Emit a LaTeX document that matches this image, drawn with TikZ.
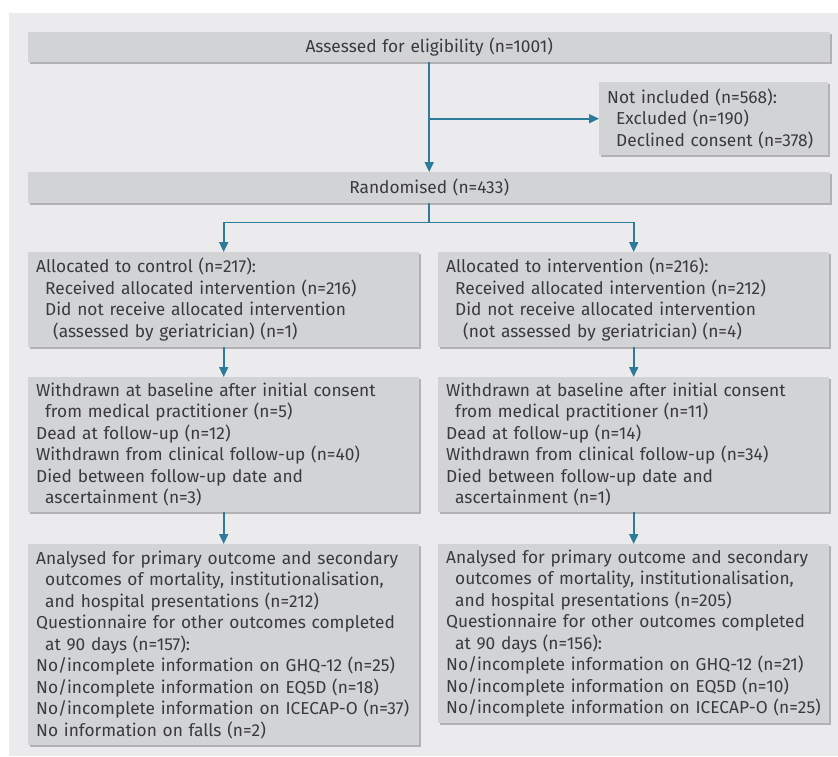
\documentclass[tikz,border=0pt]{standalone}
\usepackage{fontspec}
\setmainfont{Fira Sans}
\usepackage{xcolor}
\usetikzlibrary{arrows.meta,shadows,positioning}

\definecolor{panelgray}{HTML}{EBEBED}
\definecolor{boxgray}{HTML}{D2D3D5}
\definecolor{shadegray}{HTML}{B2B2B4}
\definecolor{flowblue}{HTML}{2C7B98}
\definecolor{textgray}{HTML}{3A3A3C}

\newcommand{\indA}{\hspace*{9pt}}
\newcommand{\indB}{\hspace*{17pt}}

\tikzset{
    flowbox/.style={
        fill=boxgray,
        text=textgray,
        anchor=north west,
        inner xsep=8pt,
        inner ysep=0pt,
        align=left,
        font=\fontsize{17.3}{21.5}\selectfont,
        drop shadow={shadow xshift=2pt, shadow yshift=-2pt, fill=shadegray, opacity=1}
    },
    flowarrow/.style={
        draw=flowblue,
        line width=1.8pt,
        -{Triangle[width=9pt,length=10pt]}
    }
}

\begin{document}
\begin{tikzpicture}[x=1pt,y=1pt]
                \useasboundingbox (0,0) rectangle (838,-756);
                \fill[panelgray] (9,-13) rectangle (838,-756);

                % top row
                \node[flowbox, align=center, text width=786pt, minimum height=30pt]
                    (assess) at (28,-32) {Assessed for eligibility (n=1001)};
                \node[flowbox, text width=213pt, minimum height=73pt]
                    (notinc) at (599,-82) {Not included (n=568):\\
                    \indA Excluded (n=190)\\
                    \indA Declined consent (n=378)};
                \node[flowbox, align=center, text width=786pt, minimum height=31pt]
                    (rand) at (28,-172) {Randomised (n=433)};

                % allocation
                \node[flowbox, text width=375pt, minimum height=95pt]
                    (allocC) at (28,-252) {Allocated to control (n=217):\\
                    \indA Received allocated intervention (n=216)\\
                    \indA Did not receive allocated intervention\\
                    \indB (assessed by geriatrician) (n=1)};
                \node[flowbox, text width=375pt, minimum height=95pt]
                    (allocI) at (438,-252) {Allocated to intervention (n=216):\\
                    \indA Received allocated intervention (n=212)\\
                    \indA Did not receive allocated intervention\\
                    \indB (not assessed by geriatrician) (n=4)};

                % follow-up
                \node[flowbox, text width=375pt, minimum height=135pt]
                    (withC) at (28,-377) {Withdrawn at baseline after initial consent\\
                    \indA from medical practitioner (n=5)\\
                    Dead at follow-up (n=12)\\
                    Withdrawn from clinical follow-up (n=40)\\
                    Died between follow-up date and\\
                    \indA ascertainment (n=3)};
                \node[flowbox, text width=375pt, minimum height=135pt]
                    (withI) at (438,-377) {Withdrawn at baseline after initial consent\\
                    \indA from medical practitioner (n=11)\\
                    Dead at follow-up (n=14)\\
                    Withdrawn from clinical follow-up (n=34)\\
                    Died between follow-up date and\\
                    \indA ascertainment (n=1)};

                % analysis
                \node[flowbox, text width=375pt, minimum height=201pt]
                    (anaC) at (28,-544) {Analysed for primary outcome and secondary\\
                    \indA outcomes of mortality, institutionalisation,\\
                    \indA and hospital presentations (n=212)\\
                    Questionnaire for other outcomes completed\\
                    \indA at 90 days (n=157):\\
                    No/incomplete information on GHQ-12 (n=25)\\
                    No/incomplete information on EQ5D (n=18)\\
                    No/incomplete information on ICECAP-O (n=37)\\
                    No information on falls (n=2)};
                \node[flowbox, text width=375pt, minimum height=179pt]
                    (anaI) at (438,-544) {Analysed for primary outcome and secondary\\
                    \indA outcomes of mortality, institutionalisation,\\
                    \indA and hospital presentations (n=205)\\
                    Questionnaire for other outcomes completed\\
                    \indA at 90 days (n=156):\\
                    No/incomplete information on GHQ-12 (n=21)\\
                    No/incomplete information on EQ5D (n=10)\\
                    No/incomplete information on ICECAP-O (n=25)};

                % connectors
                \draw[flowarrow] (assess.south) -- (rand.north);
                \draw[flowarrow] (assess.south |- notinc.west) -- (notinc.west);
                \draw[flowarrow] (rand.south) -- ++(0,-19) -| (allocC.north);
                \draw[flowarrow] (rand.south) -- ++(0,-19) -| (allocI.north);
                \draw[flowarrow] (allocC.south) -- (withC.north);
                \draw[flowarrow] (allocI.south) -- (withI.north);
                \draw[flowarrow] (withC.south) -- (anaC.north);
                \draw[flowarrow] (withI.south) -- (anaI.north);

\end{tikzpicture}
\end{document}
